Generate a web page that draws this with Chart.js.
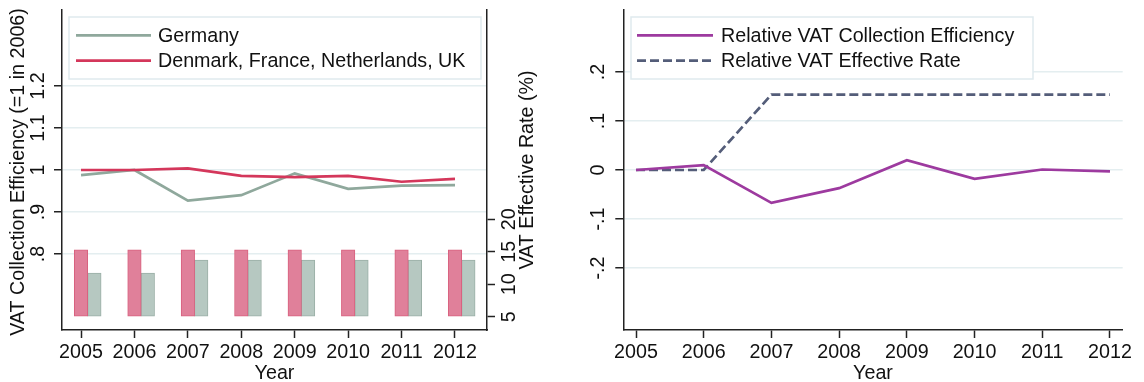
<!DOCTYPE html>
<html>
<head>
<meta charset="utf-8">
<script src="https://cdn.jsdelivr.net/npm/chart.js@4/dist/chart.umd.min.js"></script>
<style>
  html, body { margin: 0; padding: 0; background: #fff; }
  #wrap { position: relative; width: 1144px; height: 382px; }
  #left { position: absolute; left: 0; top: 0; }
  #right { position: absolute; left: 560px; top: 0; }
</style>
</head>
<body>
<div id="wrap">
  <canvas id="left" width="560" height="382"></canvas>
  <canvas id="right" width="584" height="382"></canvas>
</div>
<script>
// Years on the horizontal axis
const years = [2005, 2006, 2007, 2008, 2009, 2010, 2011, 2012];

// VAT collection efficiency, index (=1 in 2006)
const effGermany = [0.988, 1.000, 0.927, 0.940, 0.992, 0.955, 0.963, 0.964];
const effOthers  = [1.000, 1.000, 1.004, 0.986, 0.983, 0.986, 0.972, 0.979];

// VAT effective rate (%)
const rateOthers  = [15.3, 15.3, 15.3, 15.3, 15.3, 15.3, 15.3, 15.3];
const rateGermany = [11.7, 11.7, 13.7, 13.7, 13.7, 13.7, 13.7, 13.7];
const rateBase = 5;

// Germany relative to the comparison group
const relEff  = [0, 0.010, -0.067, -0.037, 0.020, -0.018, 0.001, -0.003];
const relRate = [0, 0, 0.154, 0.154, 0.154, 0.154, 0.154, 0.154];

// Tick values and labels
const effTicks = [0.8, 0.9, 1, 1.1, 1.2];
const effTickLabels = ['.8', '.9', '1', '1.1', '1.2'];
const rateTicks = [5, 10, 15, 20];
const rateTickLabels = ['5', '10', '15', '20'];
const relTicks = [-0.2, -0.1, 0, 0.1, 0.2];
const relTickLabels = ['-.2', '-.1', '0', '.1', '.2'];

const FONT = '"Liberation Sans", Arial, Helvetica, sans-serif';
const FSIZE = 19.7;
const TXT = '#111';
const AXIS = '#222';
const GRID = '#e4eef0';
Chart.defaults.font.family = FONT;
Chart.defaults.font.size = FSIZE;
Chart.defaults.color = TXT;

const pts = (xs, ys, dx) => xs.map((x, i) => ({ x: x + (dx || 0), y: ys[i] }));

// draws rotated tick labels for a vertical scale, the titles and a boxed legend
const decor = {
  id: 'decor',
  afterDraw(chart, args, o) {
    const ctx = chart.ctx;
    ctx.save();
    ctx.fillStyle = TXT;
    ctx.font = FSIZE + 'px ' + FONT;
    const rotText = (txt, x, y) => {
      ctx.save();
      ctx.translate(x, y);
      ctx.rotate(-Math.PI / 2);
      ctx.textAlign = 'center';
      ctx.textBaseline = 'middle';
      ctx.fillText(txt, 0, 0);
      ctx.restore();
    };
    (o.vLabels || []).forEach(v => {
      const s = chart.scales[v.axis];
      v.values.forEach((val, i) => rotText(v.labels[i], v.x, s.getPixelForValue(val)));
    });
    (o.vTitles || []).forEach(t => rotText(t.text, t.x, t.y));
    const a = chart.chartArea;
    ctx.textAlign = 'center';
    ctx.textBaseline = 'alphabetic';
    ctx.fillText(o.xTitle, (a.left + a.right) / 2, o.xTitleY);

    // legend
    const L = o.legend;
    ctx.fillStyle = '#fff';
    ctx.fillRect(L.x, L.y, L.w, L.h);
    ctx.strokeStyle = '#dfeaee';
    ctx.lineWidth = 1.5;
    ctx.strokeRect(L.x, L.y, L.w, L.h);
    L.items.forEach((idx, k) => {
      const ds = chart.data.datasets[idx];
      const y = L.firstY + k * L.step;
      ctx.beginPath();
      ctx.setLineDash(ds.borderDash || []);
      ctx.strokeStyle = ds.borderColor;
      ctx.lineWidth = ds.borderWidth;
      ctx.moveTo(L.lineX0, y);
      ctx.lineTo(L.lineX1, y);
      ctx.stroke();
      ctx.setLineDash([]);
      ctx.fillStyle = TXT;
      ctx.textAlign = 'left';
      ctx.textBaseline = 'middle';
      ctx.fillText(ds.label, L.textX, y + 1);
    });
    ctx.restore();
  }
};

const setTicks = vals => scale => { scale.ticks = vals.map(v => ({ value: v })); };
const fixW = w => scale => { scale.width = w; };
const fixH = h => scale => { scale.height = h; };

const xAxis = (min, max) => ({
  type: 'linear', position: 'bottom', min, max, offset: false,
  afterBuildTicks: setTicks(years),
  afterFit: fixH(52),
  grid: { offset: false, drawOnChartArea: false, drawTicks: true, tickLength: 8, tickColor: AXIS, tickWidth: 1.5 },
  border: { display: true, color: AXIS, width: 1.5 },
  ticks: { autoSkip: false, maxRotation: 0, minRotation: 0, padding: 3, color: TXT,
           font: { size: FSIZE }, callback: v => String(v) }
});

// Left panel: efficiency index lines and effective-rate bars
new Chart(document.getElementById('left'), {
  type: 'line',
  data: {
    datasets: [
      { label: 'Germany', type: 'line', data: pts(years, effGermany), yAxisID: 'y',
        borderColor: '#8fa89c', borderWidth: 2.7, pointRadius: 0, tension: 0, order: 1 },
      { label: 'Denmark, France, Netherlands, UK', type: 'line', data: pts(years, effOthers), yAxisID: 'y',
        borderColor: '#d4375b', borderWidth: 2.7, pointRadius: 0, tension: 0, order: 0 },
      { label: 'rate others', type: 'bar', data: pts(years, rateOthers), yAxisID: 'y2', base: rateBase,
        backgroundColor: '#e0809a', borderColor: '#d8607e', borderWidth: 1, borderSkipped: false,
        barThickness: 13.5, grouped: false, order: 3 },
      { label: 'rate Germany', type: 'bar', data: pts(years, rateGermany, 0.25), yAxisID: 'y2', base: rateBase,
        backgroundColor: '#b6c8c1', borderColor: '#9aafa6', borderWidth: 1, borderSkipped: false,
        barThickness: 13.5, grouped: false, order: 3 }
    ]
  },
  options: {
    responsive: false, animation: false, devicePixelRatio: 1,
    layout: { padding: { top: 10, left: 0, right: 0, bottom: 0 } },
    plugins: {
      legend: { display: false }, tooltip: { enabled: false },
      decor: {
        vLabels: [
          { axis: 'y', x: 39, values: effTicks, labels: effTickLabels },
          { axis: 'y2', x: 510, values: rateTicks, labels: rateTickLabels }
        ],
        vTitles: [
          { text: 'VAT Collection Efficiency (=1 in 2006)', x: 19, y: 172 },
          { text: 'VAT Effective Rate (%)', x: 528, y: 170 }
        ],
        xTitle: 'Year', xTitleY: 378.5,
        legend: { x: 69, y: 17, w: 412, h: 62, items: [0, 1], firstY: 35.3, step: 25.4,
                  lineX0: 76, lineX1: 151, textX: 158 }
      }
    },
    scales: {
      x: xAxis(2004.644, 2012.599),
      y: {
        type: 'linear', position: 'left', min: 0.619, max: 1.381,
        afterBuildTicks: setTicks(effTicks), afterFit: fixW(62),
        grid: { color: GRID, lineWidth: 1.5, drawTicks: true, tickLength: 8, tickColor: AXIS, tickWidth: 1.5 },
        border: { display: true, color: AXIS, width: 1.5 },
        ticks: { display: false }
      },
      y2: {
        type: 'linear', position: 'right', min: 2.952, max: 52.23,
        afterBuildTicks: setTicks(rateTicks), afterFit: fixW(73),
        grid: { offset: false, drawOnChartArea: false, drawTicks: true, tickLength: 8, tickColor: AXIS, tickWidth: 1.5 },
        border: { display: true, color: AXIS, width: 1.5 },
        ticks: { display: false }
      }
    }
  },
  plugins: [decor]
});

// Right panel: relative efficiency and relative effective rate
new Chart(document.getElementById('right'), {
  type: 'line',
  data: {
    datasets: [
      { label: 'Relative VAT Collection Efficiency', data: pts(years, relEff),
        borderColor: '#9d3a9f', borderWidth: 2.7, pointRadius: 0, tension: 0 },
      { label: 'Relative VAT Effective Rate', data: pts(years, relRate),
        borderColor: '#545d79', borderWidth: 2.7, borderDash: [9, 4], pointRadius: 0, tension: 0 }
    ]
  },
  options: {
    responsive: false, animation: false, devicePixelRatio: 1,
    layout: { padding: { top: 10, left: 0, right: 21.3, bottom: 0 } },
    plugins: {
      legend: { display: false }, tooltip: { enabled: false },
      decor: {
        vLabels: [ { axis: 'y', x: 39, values: relTicks, labels: relTickLabels } ],
        vTitles: [],
        xTitle: 'Year', xTitleY: 378.5,
        legend: { x: 71, y: 17, w: 402, h: 62, items: [0, 1], firstY: 35.3, step: 25.4,
                  lineX0: 77, lineX1: 153, textX: 161 }
      }
    },
    scales: {
      x: xAxis(2004.8124, 2012.1876),
      y: {
        type: 'linear', position: 'left', min: -0.3265, max: 0.3265,
        afterBuildTicks: setTicks(relTicks), afterFit: fixW(63.3),
        grid: { color: GRID, lineWidth: 1.5, drawTicks: true, tickLength: 8, tickColor: AXIS, tickWidth: 1.5 },
        border: { display: true, color: AXIS, width: 1.5 },
        ticks: { display: false }
      }
    }
  },
  plugins: [decor]
});
</script>
</body>
</html>
